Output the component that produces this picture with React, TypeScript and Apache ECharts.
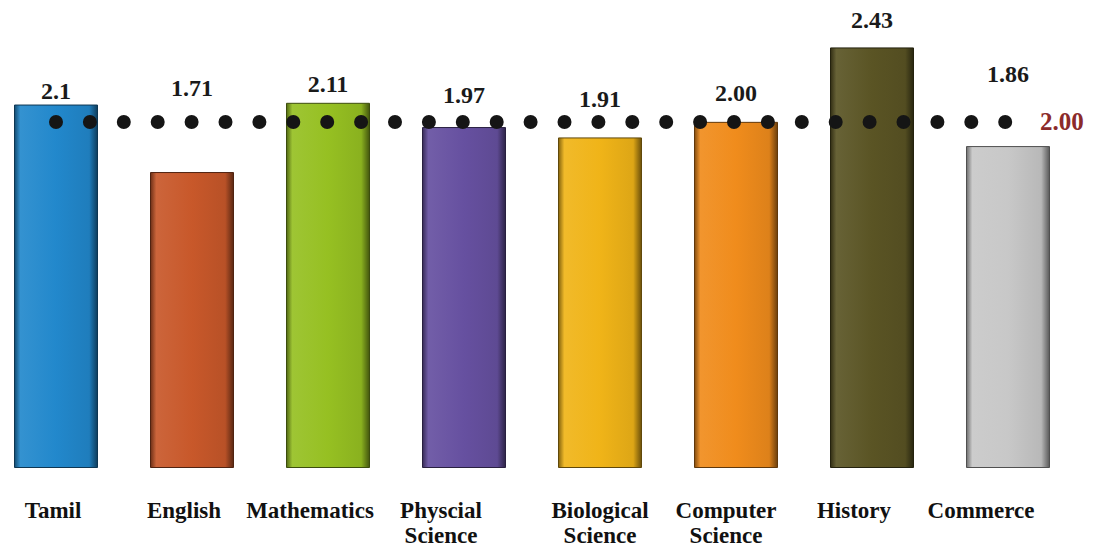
import React, { useEffect, useRef } from "react";
import * as echarts from "echarts";

const categories = [
  "Tamil",
  "English",
  "Mathematics",
  "Physcial\nScience",
  "Biological\nScience",
  "Computer\nScience",
  "History",
  "Commerce",
];
const values = [2.1, 1.71, 2.11, 1.97, 1.91, 2.0, 2.43, 1.86];
const valueLabels = ["2.1", "1.71", "2.11", "1.97", "1.91", "2.00", "2.43", "1.86"];
const referenceValue = 2.0;
const referenceLabel = "2.00";

// styling only
const barColors = ["#2288cc", "#c8582a", "#96c022", "#6650a0", "#f0b418", "#f08c1c", "#5a5424", "#c8c8c8"];
const labelLift = [-3, 67, 2, 15, 21, 12, 10, 55];
const catShift = [-3, -8, -18, -23, 0, -10, -18, -27];

const FONT = "Liberation Serif";

function shade(hex: string, f: number) {
  const n = parseInt(hex.slice(1), 16);
  let r = (n >> 16) & 255, g = (n >> 8) & 255, b = n & 255;
  if (f < 0) {
    r = Math.round(r * (1 + f)); g = Math.round(g * (1 + f)); b = Math.round(b * (1 + f));
  } else {
    r = Math.round(r + (255 - r) * f); g = Math.round(g + (255 - g) * f); b = Math.round(b + (255 - b) * f);
  }
  return `rgb(${r},${g},${b})`;
}

export default function App() {
  const ref = useRef<HTMLDivElement>(null);
  useEffect(() => {
    document.body.style.margin = "0";
    document.body.style.overflow = "hidden";
    const chart = echarts.init(ref.current!, null, { renderer: "svg" });
    const option: any = {
      animation: false,
      backgroundColor: "#ffffff",
      grid: { left: 0, right: 17, top: 18, bottom: 80, containLabel: false },
      xAxis: {
        type: "category",
        data: categories.map((c, i) => ({
          value: c,
          textStyle: {
            padding: catShift[i] < 0 ? [0, -2 * catShift[i], 0, 0] : [0, 0, 0, 2 * catShift[i]],
          },
        })),
        axisLine: { show: false },
        axisTick: { show: false },
        axisLabel: {
          interval: 0,
          margin: 30,
          fontFamily: FONT,
          fontWeight: "bold",
          fontSize: 23,
          lineHeight: 25,
          color: "#111",
        },
      },
      yAxis: { type: "value", min: 0, max: 2.6, show: false, splitLine: { show: false } },
      series: [
        {
          type: "bar",
          barWidth: 84,
          data: values.map((v, i) => ({
            value: v,
            itemStyle: {
              color: new echarts.graphic.LinearGradient(0, 0, 1, 0, [
                { offset: 0, color: shade(barColors[i], -0.45) },
                { offset: 0.07, color: shade(barColors[i], 0.08) },
                { offset: 0.5, color: barColors[i] },
                { offset: 0.9, color: shade(barColors[i], -0.08) },
                { offset: 1, color: shade(barColors[i], -0.55) },
              ]),
              borderColor: shade(barColors[i], -0.6),
              borderWidth: 1,
            },
            label: {
              show: true,
              position: "top",
              distance: 5,
              offset: [0, -labelLift[i]],
              formatter: valueLabels[i],
              fontFamily: FONT,
              fontWeight: "bold",
              fontSize: 24,
              color: "#1a1a1a",
            },
          })),
          markLine: {
            silent: true,
            symbol: "none",
            z: 10,
            lineStyle: { color: "#151515", width: 14, type: [0, 33.9], cap: "round", opacity: 1 },
            label: {
              show: true,
              position: "end",
              distance: 32,
              formatter: referenceLabel,
              fontFamily: FONT,
              fontWeight: "bold",
              fontSize: 25,
              color: "#8b2a2a",
            },
            data: [
              [
                { coord: [categories[0], referenceValue] },
                { coord: [categories[categories.length - 1], referenceValue] },
              ],
            ],
          },
        },
      ],
    };
    chart.setOption(option);
    return () => chart.dispose();
  }, []);
  return <div ref={ref} style={{ width: 1105, height: 548, marginLeft: -12 }} />;
}
